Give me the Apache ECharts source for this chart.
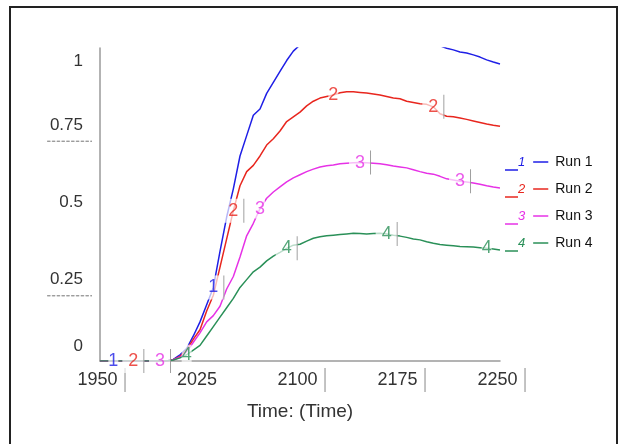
<!DOCTYPE html>
<html>
<head>
<meta charset="utf-8">
<script src="https://cdn.jsdelivr.net/npm/echarts@6/dist/echarts.min.js"></script>
<style>
html,body{margin:0;padding:0;background:#fff;}
#c{width:619px;height:444px;}
</style>
</head>
<body>
<div id="c"></div>
<script>
const years = [1950,1955,1960,1965,1970,1975,1980,1985,1990,1995,2000,2005,2010,2015,2020,2025,2030,2035,2040,2045,2050,2055,2060,2065,2070,2075,2080,2085,2090,2095,2100,2105,2110,2115,2120,2125,2130,2135,2140,2145,2150,2155,2160,2165,2170,2175,2180,2185,2190,2195,2200,2205,2210,2215,2220,2225,2230,2235,2240,2245,2250];

const run1 = [0,0,0,0,0,0,0,0,0,0,0,
  0.005,0.02,0.04,0.08,0.125,0.18,0.235,0.35,0.46,0.55,0.655,0.72,0.785,0.805,0.855,0.89,0.925,0.96,0.99,1.01,
  1.04,1.06,1.08,1.09,1.10,1.11,1.115,1.12,1.12,1.115,1.11,1.10,1.09,1.08,1.07,1.06,1.045,1.035,1.025,1.015,
  1.007,0.999,0.994,0.987,0.984,0.978,0.971,0.962,0.955,0.949];
const run2 = [0,0,0,0,0,0,0,0,0,0,0,
  0.004,0.015,0.035,0.07,0.1,0.16,0.21,0.30,0.39,0.48,0.56,0.605,0.625,0.655,0.69,0.71,0.735,0.765,0.78,0.795,
  0.815,0.83,0.84,0.845,0.85,0.857,0.86,0.86,0.858,0.856,0.853,0.85,0.845,0.84,0.838,0.83,0.826,0.822,0.82,0.812,
  0.79,0.782,0.78,0.776,0.772,0.767,0.762,0.757,0.753,0.75];
const run3 = [0,0,0,0,0,0,0,0,0,0,0,
  0.004,0.012,0.03,0.06,0.09,0.125,0.145,0.175,0.23,0.27,0.332,0.40,0.44,0.487,0.52,0.54,0.556,0.572,0.585,0.595,
  0.605,0.613,0.62,0.624,0.626,0.63,0.632,0.633,0.634,0.633,0.632,0.63,0.627,0.623,0.62,0.617,0.611,0.605,0.6,0.597,
  0.59,0.582,0.578,0.574,0.572,0.569,0.565,0.56,0.556,0.553];
const run4 = [0,0,0,0,0,0,0,0,0,0,0,
  0.003,0.01,0.02,0.035,0.05,0.08,0.11,0.14,0.17,0.2,0.235,0.26,0.285,0.3,0.32,0.335,0.347,0.36,0.37,0.373,
  0.383,0.392,0.397,0.4,0.402,0.404,0.406,0.408,0.407,0.406,0.407,0.408,0.406,0.402,0.399,0.395,0.39,0.387,0.381,0.376,
  0.372,0.37,0.368,0.366,0.365,0.364,0.362,0.36,0.358,0.355];

const runNames = ['Run 1','Run 2','Run 3','Run 4'];
const runColors = ['#1f1fe6','#e8261e','#e632e6','#2a9058'];
const runValues = [run1, run2, run3, run4];
// indices (into years) where the run number is written on each curve
const markerIdx = [[2,17,32,47],[5,20,35,50],[9,24,39,54],[13,28,43,58]];
const markerBar = [[false,true,true,true],[true,true,false,true],[true,false,true,true],[false,true,true,false]];

const xTicks = [1950,2025,2100,2175,2250];
const xTickBar = [true,false,true,true,true];
const yTicks = [0,0.25,0.5,0.75,1];

const FONT = '"Liberation Sans", Arial, sans-serif';

const series = [];
runValues.forEach((vals, r) => {
  series.push({
    name: runNames[r],
    type: 'line',
    data: years.map((y, i) => [y, vals[i]]),
    showSymbol: false,
    symbol: 'none',
    lineStyle: {color: runColors[r], width: 1.5},
    itemStyle: {color: runColors[r]},
    clip: true,
    z: 2 + r
  });
});
runValues.forEach((vals, r) => {
  series.push({
    name: 'm' + (r + 1),
    type: 'scatter',
    symbol: 'circle',
    symbolSize: 1,
    itemStyle: {color: 'rgba(0,0,0,0)'},
    clip: true,
    z: 10,
    silent: true,
    data: markerIdx[r].map((i, k) => ({value: [years[i], vals[i]], bar: markerBar[r][k]})),
    label: {
      show: true,
      position: 'inside',
      formatter: p => p.data.bar ? '{p|}{n|' + (r + 1) + '}{s|}{b|}' : '{n|' + (r + 1) + '}',
      backgroundColor: 'rgba(255,255,255,0.85)',
      rich: {
        n: {fontSize: 18, color: runColors[r], fontFamily: FONT, lineHeight: 20},
        p: {width: 6},
        s: {width: 5},
        b: {width: 1, height: 24, backgroundColor: '#888'}
      }
    }
  });
});

const legendRich = {
  t: {fontSize: 14, color: '#111', fontFamily: FONT, padding: [0,0,0,7], lineHeight: 16},
  g: {width: 8, lineHeight: 16}
};
runColors.forEach((c, r) => {
  legendRich['s' + r] = {width: 13, height: 0, borderColor: c, borderWidth: 1, verticalAlign: 'bottom', lineHeight: 16};
  legendRich['e' + r] = {width: 15, height: 0, borderColor: c, borderWidth: 1, lineHeight: 16};
  legendRich['d' + r] = {fontSize: 13, color: c, fontFamily: FONT, fontStyle: 'italic', lineHeight: 16};
});

const chart = echarts.init(document.getElementById('c'), null, {renderer: 'canvas'});
chart.setOption({
  animation: false,
  backgroundColor: '#fff',
  grid: {left: 100, right: 119, top: 48, bottom: 83, containLabel: false},
  xAxis: {
    type: 'value',
    min: 1950, max: 2250, interval: 75,
    axisLine: {lineStyle: {color: '#9a9a9a', width: 1.5}},
    axisTick: {show: false},
    splitLine: {show: false},
    name: 'Time: (Time)',
    nameLocation: 'middle',
    nameGap: 41,
    nameTextStyle: {fontSize: 19, color: '#333', fontFamily: FONT},
    axisLabel: {
      margin: 7,
      showMinLabel: true, showMaxLabel: true,
      formatter: v => {
        const i = xTicks.indexOf(v);
        if (i < 0) return '';
        return xTickBar[i] ? '{p|}{v|' + v + '}{s|}{b|}' : '{v|' + v + '}{q|}';
      },
      rich: {
        v: {fontSize: 18, color: '#333', fontFamily: FONT},
        p: {width: 3},
        s: {width: 7},
        q: {width: 6, height: 24},
        b: {width: 1, height: 24, backgroundColor: '#888'}
      }
    }
  },
  yAxis: {
    type: 'value',
    min: 0, max: 1, interval: 0.25,
    axisLine: {show: true, lineStyle: {color: '#9a9a9a', width: 1.5}},
    axisTick: {show: false},
    splitLine: {show: false},
    axisLabel: {
      margin: 8,
      formatter: v => {
        const i = yTicks.indexOf(v);
        if (i < 0) return '';
        if (v === 1) return '{sp26|}\n{t|1}{rs|}';
        if (v === 0) return '{t|0}{rs|}\n{sp30|}';
        if (v === 0.5) return '{t|0.5}{rs|}\n{sp5|}';
        if (v === 0.25) return '{tt|0.25}{rs|}\n{u|}';
        if (v === 0.75) return '{sp4|}\n{tt|0.75}{rs|}\n{u|}';
        return String(v);
      },
      rich: {
        t: {fontSize: 17, color: '#333', fontFamily: FONT, lineHeight: 20, align: 'right'},
        tt: {fontSize: 17, color: '#333', fontFamily: FONT, lineHeight: 26, align: 'right'},
        rs: {width: 9, align: 'right'},
        u: {width: 45, height: 0, lineHeight: 6, borderColor: '#8a8a8a', borderWidth: 0.8, borderType: 'dashed', align: 'right'},
        sp26: {height: 26, lineHeight: 26},
        sp30: {height: 30, lineHeight: 30},
        sp5: {height: 5, lineHeight: 5},
        sp4: {height: 4, lineHeight: 4}
      }
    }
  },
  legend: {
    data: runNames,
    orient: 'vertical',
    left: 494,
    top: 149,
    itemWidth: 0,
    itemHeight: 0,
    itemGap: 5,
    selectedMode: false,
    formatter: name => {
      const r = runNames.indexOf(name);
      return '{s' + r + '|}{d' + r + '|' + (r + 1) + '}{g|}{e' + r + '|}{t|' + name + '}';
    },
    textStyle: {rich: legendRich, lineHeight: 16}
  },
  graphic: [{
    type: 'rect',
    shape: {x: 10, y: 7, width: 607, height: 460},
    style: {fill: 'none', stroke: '#222', lineWidth: 2},
    silent: true
  }],
  series: series
});
</script>
</body>
</html>
